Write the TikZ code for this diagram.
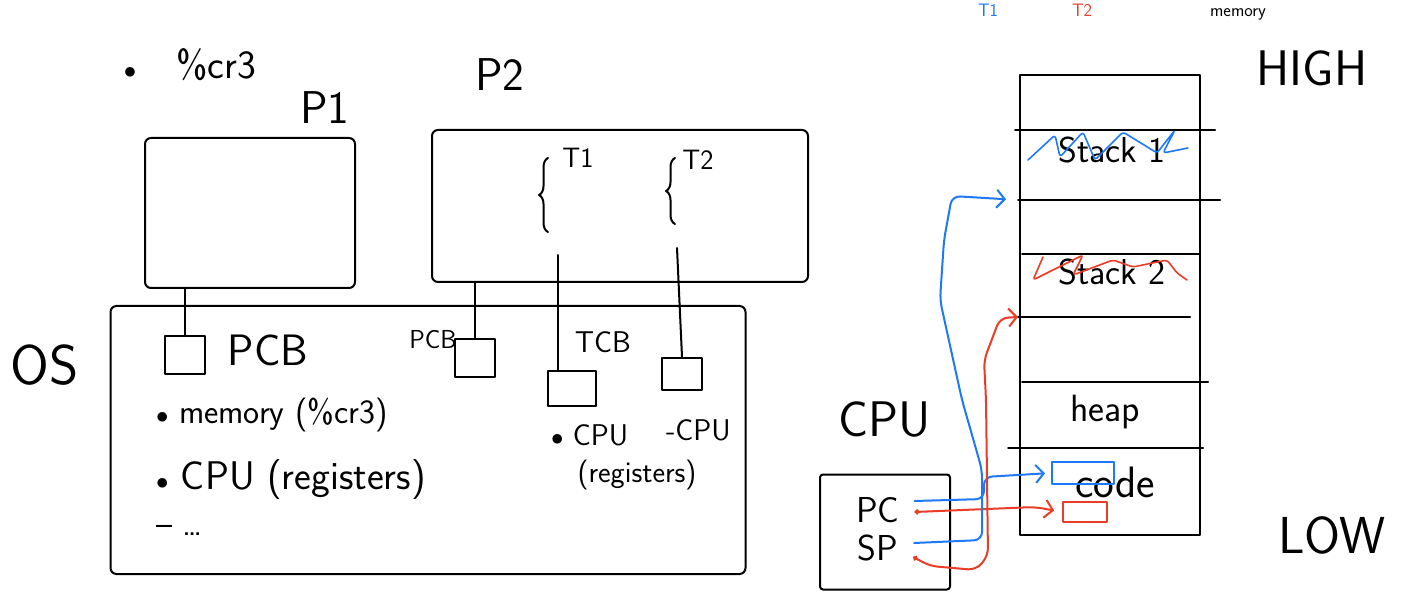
\documentclass[tikz,border=0pt]{standalone}
\usepackage{xcolor}
\usepackage{tikz}
\usetikzlibrary{arrows.meta,positioning,calc,decorations.pathreplacing}
\definecolor{penblue}{RGB}{30,120,250}
\definecolor{penred}{RGB}{235,60,40}

\begin{document}
\begin{tikzpicture}[
    x=1pt,y=-1pt,
    line width=2pt,line cap=round,line join=round,
    hand/.style={inner sep=0pt,font=\sffamily\fontsize{#1}{#1}\selectfont},
    procbox/.style={draw,rounded corners=6pt,inner sep=0pt},
    ctlblock/.style={draw,minimum width=40pt,minimum height=38pt,inner sep=0pt},
    bluearrow/.style={penblue,-{Straight Barb[length=8pt,width=18pt]},rounded corners=8pt},
    redarrow/.style={penred,{Circle[length=5pt]}-{Straight Barb[length=8pt,width=18pt]},rounded corners=8pt}
  ]
  \useasboundingbox (0,0) rectangle (1410,601);

  % legend at the top edge
  \node[hand=18,anchor=base,text=penblue] (legt1) at (988,17) {T1};
  \node[hand=18,anchor=base,text=penred] (legt2) at (1082,17) {T2};
  \node[hand=18,anchor=base] (legmem) at (1238,17) {memory};

  % processes
  \node[hand=40] (cr3) at (190,65) {$\bullet$\quad\%cr3};
  \node[hand=46] (p1) at (325,108) {P1};
  \node[hand=46] (p2) at (500,75) {P2};
  \node[procbox,minimum width=210pt,minimum height=150pt] (p1box) at (250,213) {};
  \node[procbox,minimum width=376pt,minimum height=152pt] (p2box) at (620,206) {};
  \draw[decorate,decoration={brace,amplitude=9pt}] (548,232) -- (548,158);
  \draw[decorate,decoration={brace,amplitude=9pt}] (675,224) -- (675,158);
  \node[hand=28] (t1) at (578,158) {T1};
  \node[hand=28] (t2) at (698,160) {T2};
  \coordinate (t1foot) at (558,255);
  \coordinate (t2foot) at (677,248);

  % OS
  \node[hand=56] (os) at (45,365) {OS};
  \node[procbox,minimum width=635pt,minimum height=268pt] (osbox) at (428,440) {};
  \node[ctlblock] (pcb1) at (185,355) {};
  \node[ctlblock] (pcb2) at (475,358) {};
  \node[ctlblock,minimum width=48pt,minimum height=35pt] (tcb1) at (572,388) {};
  \node[ctlblock,minimum height=32pt] (tcb2) at (682,374) {};
  \node[hand=44] (pcbtext) at (268,350) {PCB};
  \node[hand=26] (pcbsmall) at (433,340) {PCB};
  \node[hand=30] (tcbtext) at (603,342) {TCB};
  \node[hand=34,anchor=west] (memitem) at (155,415) {$\bullet$\ memory (\%cr3)};
  \node[hand=40,anchor=west] (cpuitem) at (155,480) {$\bullet$\ CPU (registers)};
  \node[hand=34,anchor=west] (moreitem) at (155,530) {--\ \dots};
  \node[hand=30,anchor=west] (tcpu1) at (550,435) {$\bullet$\ CPU};
  \node[hand=30,anchor=west] (tcpu2) at (665,430) {-CPU};
  \node[hand=30] (tregs) at (637,475) {(registers)};
  \draw (p1box.south -| pcb1) -- (pcb1.north);
  \draw (p2box.south -| pcb2) -- (pcb2.north);
  \draw (t1foot) -- (t1foot |- tcb1.north);
  \draw (t2foot) -- (tcb2.north);

  % CPU
  \node[hand=50] (cpulabel) at (885,420) {CPU};
  \node[procbox,rounded corners=3pt,minimum width=130pt,minimum height=115pt] (cpubox) at (885,532) {};
  \node[hand=36] (pc) at (878,510) {PC};
  \node[hand=36] (sp) at (878,548) {SP};

  % memory
  \node[draw,minimum width=180pt,minimum height=460pt,inner sep=0pt] (mem) at (1110,305) {};
  \foreach \y/\xa/\xb in {130/1015/1215,200/1018/1220,254/1022/1200,317/1018/1190,382/1022/1208,448/1008/1203}{
    \draw (\xa,\y) -- (\xb,\y);
    \coordinate (mline\y) at (\xa,\y);
  }
  \node[hand=36] (stack1) at (1112,150) {Stack 1};
  \node[hand=36] (stack2) at (1112,272) {Stack 2};
  \node[hand=38] (heap) at (1105,412) {heap};
  \node[hand=44] (code) at (1115,482) {code};
  \node[draw=penblue,minimum width=62pt,minimum height=22pt,inner sep=0pt] (pcslot) at (1083,473) {};
  \node[draw=penred,minimum width=44pt,minimum height=20pt,inner sep=0pt] (spslot) at (1085,512) {};
  \node[hand=50] (high) at (1312,68) {HIGH};
  \node[hand=52] (low) at (1332,535) {LOW};

  % crossed out stacks
  \draw[penblue,line width=1.6pt,rounded corners=3pt] (1028,160) -- (1055,135) -- (1060,157) -- (1083,132) -- (1095,160) -- (1123,132) -- (1157,153) -- (1175,130) -- (1163,153) -- (1188,148);
  \draw[penred,line width=1.6pt,rounded corners=3pt] (1043,257) -- (1033,280) -- (1083,255) -- (1073,275) -- (1113,260) -- (1133,267) -- (1167,260) -- (1177,273) -- (1187,280);

  % registers -> memory
  \coordinate (pcblue) at ($(pc.east)+(14,-9)$);
  \coordinate (pcred) at ($(pc.east)+(14,2)$);
  \coordinate (spblue) at ($(sp.east)+(15,-5)$);
  \coordinate (spred) at ($(sp.east)+(14,9)$);
  \draw[bluearrow,shorten >=6pt] (pcblue) -- (984,499) -- (984,477) -- (pcslot.west);
  \draw[redarrow,shorten >=8pt] (pcred) -- (1035,507) -- (spslot.west);
  \draw[bluearrow,shorten >=12pt] (spblue) -- (982,540) -- (982,470) -- (962,400) -- (940,300) -- (944,240) -- (952,196) -- (mline200);
  \draw[redarrow] (spred) -- (930,566) -- (976,570) -- (988,556) -- (986,400) -- (984,360) -- (1000,318) -- (mline317);
\end{tikzpicture}
\end{document}
